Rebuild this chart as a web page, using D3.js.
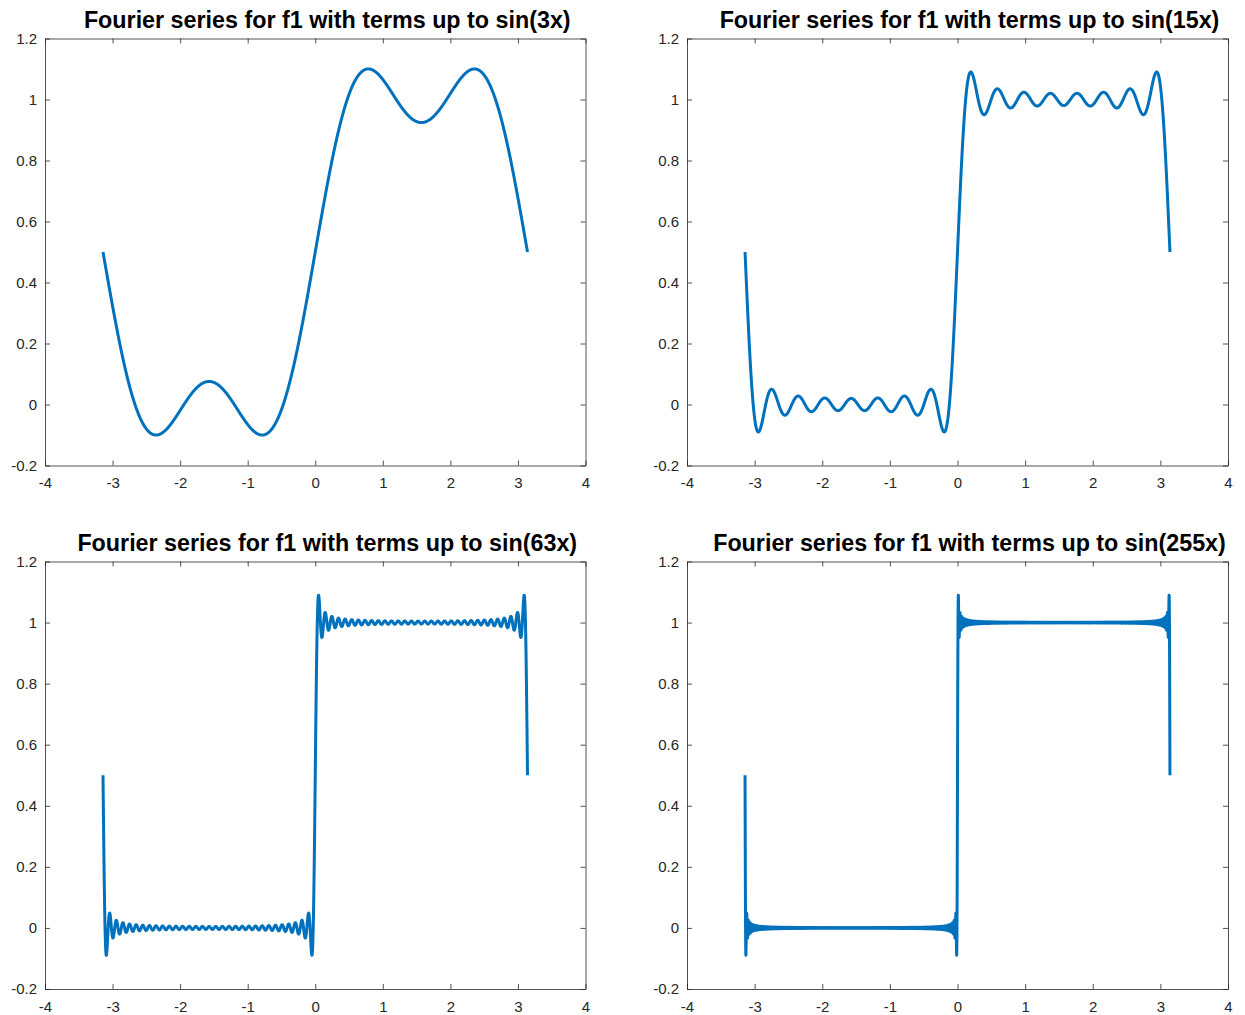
<!DOCTYPE html>
<meta charset="utf-8">
<style>
  body { margin: 0; background: #fff; }
  text { font-family: "Liberation Sans", Arial, sans-serif; }
</style>
<script src="https://d3js.org/d3.v7.min.js"></script>
<div id="chart"></div>
<script>

  // panel titles and highest harmonic kept in each partial sum
  var titles = [
    "Fourier series for f1 with terms up to sin(3x)",
    "Fourier series for f1 with terms up to sin(15x)",
    "Fourier series for f1 with terms up to sin(63x)",
    "Fourier series for f1 with terms up to sin(255x)"
  ]
  var maxTerm = [3, 15, 63, 255]
  var a0 = 0.5            // mean of f1 over [-pi, pi]
  var xRange = [-Math.PI, Math.PI]
  var xTicks = [-4, -3, -2, -1, 0, 1, 2, 3, 4]
  var yTicks = [-0.2, 0, 0.2, 0.4, 0.6, 0.8, 1, 1.2]
  var nSamples = 6000

  var width = 1245, height = 1015
  var boxes = [
    {left: 45, top: 38.5, right: 585.5, bottom: 465.5},
    {left: 687, top: 38.5, right: 1228, bottom: 465.5},
    {left: 45, top: 561.5, right: 585.5, bottom: 989},
    {left: 687, top: 561.5, right: 1228, bottom: 989}
  ]

  var svg = d3.select("#chart").append("svg")
      .attr("width", width)
      .attr("height", height)

  // f1 partial sum: a0 + sum over odd k of 2/(pi k) sin(kx)
  function partialSum(x, N) {
    var s = a0
    for (var k = 1; k <= N; k += 2) s += 2 / (Math.PI * k) * Math.sin(k * x)
    return s
  }

  var fmt = function(d) { return String(d) }   // plain hyphen minus like the original

  boxes.forEach(function(b, i) {
    var x = d3.scaleLinear().domain([-4, 4]).range([b.left, b.right])
    var y = d3.scaleLinear().domain([-0.2, 1.2]).range([b.bottom, b.top])
    var g = svg.append("g")

    var xs = d3.range(nSamples).map(function(j) {
      return xRange[0] + (xRange[1] - xRange[0]) * j / (nSamples - 1)
    })
    var pts = xs.map(function(v) { return [v, partialSum(v, maxTerm[i])] })

    g.append("path")
      .datum(pts)
      .attr("fill", "none")
      .attr("stroke", "#0072BD")
      .attr("stroke-width", 3)
      .attr("stroke-linejoin", "round")
      .attr("d", d3.line().x(function(d) { return x(d[0]) }).y(function(d) { return y(d[1]) }))

    // axes on all four sides, ticks pointing inward
    g.append("g").attr("transform", "translate(0," + b.bottom + ")")
      .call(d3.axisBottom(x).tickValues(xTicks).tickSizeInner(-5).tickSizeOuter(0).tickPadding(12).tickFormat(fmt))
    g.append("g").attr("transform", "translate(0," + b.top + ")")
      .call(d3.axisTop(x).tickValues(xTicks).tickSizeInner(-5).tickSizeOuter(0).tickFormat(""))
    g.append("g").attr("transform", "translate(" + b.left + ",0)")
      .call(d3.axisLeft(y).tickValues(yTicks).tickSizeInner(-5).tickSizeOuter(0).tickPadding(8).tickFormat(fmt))
    g.append("g").attr("transform", "translate(" + b.right + ",0)")
      .call(d3.axisRight(y).tickValues(yTicks).tickSizeInner(-5).tickSizeOuter(0).tickFormat(""))

    g.selectAll(".domain, .tick line").attr("stroke", "#262626").attr("stroke-width", 0.8)
    g.selectAll(".tick text").attr("fill", "#262626").style("font-size", "15px")

    g.append("text")
      .attr("x", (b.left + b.right) / 2 + 12)
      .attr("y", b.top - 11)
      .attr("text-anchor", "middle")
      .style("font-size", "23.3px")
      .style("font-weight", "bold")
      .attr("fill", "#000")
      .text(titles[i])
  })

</script>
